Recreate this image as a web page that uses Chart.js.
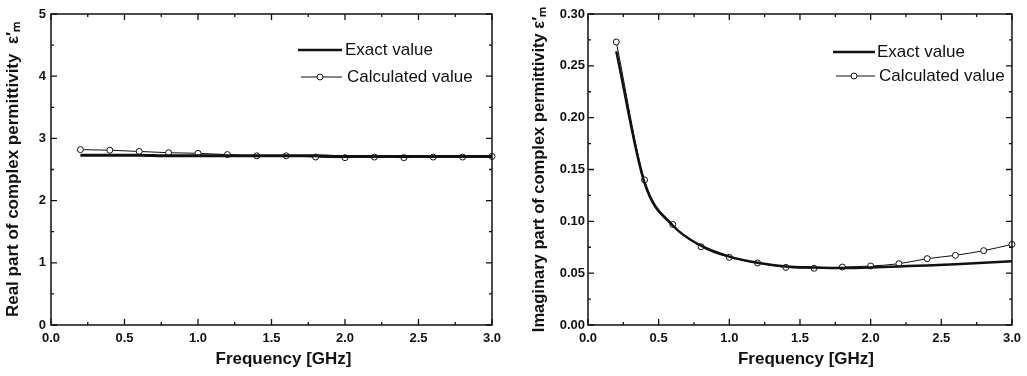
<!DOCTYPE html>
<html>
<head>
<meta charset="utf-8">
<script src="https://cdn.jsdelivr.net/npm/chart.js@4.4.1/dist/chart.umd.min.js"></script>
<style>
  body { margin: 0; background: #fff; width: 1027px; height: 376px; position: relative; overflow: hidden; }
  .box { position: absolute; top: 0; height: 376px; }
</style>
</head>
<body>
<div class="box" style="left:0;width:510px"><canvas id="realChart" width="510" height="376"></canvas></div>
<div class="box" style="left:510px;width:517px"><canvas id="imagChart" width="517" height="376"></canvas></div>
<script>
// frequency points, GHz
const freq = [0.2, 0.4, 0.6, 0.8, 1.0, 1.2, 1.4, 1.6, 1.8, 2.0, 2.2, 2.4, 2.6, 2.8, 3.0];

// real part
const realExact = [2.73, 2.73, 2.73, 2.72, 2.72, 2.72, 2.72, 2.72, 2.72, 2.71, 2.71, 2.71, 2.71, 2.71, 2.71];
const realCalc  = [2.82, 2.81, 2.79, 2.77, 2.76, 2.74, 2.72, 2.72, 2.70, 2.69, 2.70, 2.69, 2.70, 2.70, 2.71];

// imaginary part
const imagExact = [0.264, 0.137, 0.096, 0.0765, 0.066, 0.060, 0.0565, 0.0555, 0.055, 0.0555, 0.0565, 0.0575, 0.0587, 0.060, 0.0615];
const imagCalc  = [0.273, 0.140, 0.097, 0.0755, 0.0653, 0.0598, 0.0556, 0.0547, 0.0559, 0.0569, 0.0591, 0.064, 0.0672, 0.0717, 0.0778];

const xTicks = [0.0, 0.5, 1.0, 1.5, 2.0, 2.5, 3.0];
const realTicks = [0, 1, 2, 3, 4, 5];
const imagTicks = [0.00, 0.05, 0.10, 0.15, 0.20, 0.25, 0.30];

const legendLabels = ['Exact value', 'Calculated value'];
const xTitle = 'Frequency [GHz]';

const FONT = '"Liberation Sans", Arial, sans-serif';

const pts = (ys) => freq.map((f, i) => ({ x: f, y: ys[i] }));

// frame, inward ticks (major + minor on all four sides), x title and legend
const framePlugin = {
  id: 'frame',
  afterDraw(chart, args, opts) {
    const { ctx, chartArea: a, scales: { x, y } } = chart;
    ctx.save();
    ctx.strokeStyle = '#111';
    ctx.lineWidth = 1.5;
    ctx.strokeRect(a.left, a.top, a.right - a.left, a.bottom - a.top);

    ctx.lineWidth = 1.3;
    ctx.beginPath();
    const xMin = xTicks[0], xMax = xTicks[xTicks.length - 1];
    for (let k = 0; xMin + k * 0.25 <= xMax + 1e-9; k++) {
      const px = x.getPixelForValue(xMin + k * 0.25);
      const len = k % 2 === 0 ? 6 : 3;
      ctx.moveTo(px, a.bottom); ctx.lineTo(px, a.bottom - len);
      ctx.moveTo(px, a.top); ctx.lineTo(px, a.top + len);
    }
    const yt = opts.ticks;
    const step = (yt[1] - yt[0]) / 2;
    for (let k = 0; yt[0] + k * step <= yt[yt.length - 1] + 1e-9; k++) {
      const py = y.getPixelForValue(yt[0] + k * step);
      const len = k % 2 === 0 ? 6 : 3;
      ctx.moveTo(a.left, py); ctx.lineTo(a.left + len, py);
      ctx.moveTo(a.right, py); ctx.lineTo(a.right - len, py);
    }
    ctx.stroke();

    // x axis title, sits a bit right of the plot centre in the original
    ctx.fillStyle = '#111';
    ctx.font = 'bold 17px ' + FONT;
    ctx.textAlign = 'center';
    ctx.textBaseline = 'middle';
    ctx.fillText(xTitle, (a.left + a.right) / 2 + opts.titleShift, 359);

    // legend
    const L = opts.legend;
    ctx.textAlign = 'left';
    ctx.font = '17px ' + FONT;
    ctx.lineWidth = 2.5;
    ctx.beginPath(); ctx.moveTo(L.x0, L.y0); ctx.lineTo(L.x1, L.y0); ctx.stroke();
    ctx.fillText(legendLabels[0], L.tx, L.y0);
    ctx.lineWidth = 1;
    ctx.beginPath(); ctx.moveTo(L.x0 + 3, L.y1); ctx.lineTo(L.x1, L.y1); ctx.stroke();
    ctx.fillStyle = '#fff';
    ctx.beginPath(); ctx.arc(L.cx, L.y1, 3, 0, Math.PI * 2); ctx.fill(); ctx.stroke();
    ctx.fillStyle = '#111';
    ctx.fillText(legendLabels[1], L.tx + 2, L.y1);
    ctx.restore();
  }
};

function makeChart(id, exact, calc, yTicks, yTitle, cfg) {
  return new Chart(document.getElementById(id), {
    type: 'line',
    data: {
      datasets: [
        {
          label: legendLabels[0],
          data: pts(exact),
          borderColor: '#111',
          borderWidth: cfg.exactWidth,
          pointRadius: 0,
          cubicInterpolationMode: 'monotone',
          clip: false
        },
        {
          label: legendLabels[1],
          data: pts(calc),
          borderColor: '#111',
          borderWidth: 1,
          pointRadius: 3,
          pointBorderWidth: 1,
          pointBackgroundColor: '#fff',
          pointBorderColor: '#111',
          cubicInterpolationMode: 'monotone',
          clip: false
        }
      ]
    },
    options: {
      responsive: false,
      animation: false,
      events: [],
      layout: { padding: cfg.padding },
      plugins: {
        legend: { display: false },
        tooltip: { enabled: false },
        frame: { ticks: yTicks, legend: cfg.legend, titleShift: cfg.titleShift }
      },
      scales: {
        x: {
          type: 'linear',
          min: xTicks[0],
          max: xTicks[xTicks.length - 1],
          afterBuildTicks: (s) => { s.ticks = xTicks.map(v => ({ value: v })); },
          afterFit: (s) => { s.height = cfg.xHeight; },
          grid: { display: false, drawTicks: false },
          border: { display: false },
          ticks: {
            padding: 6,
            color: '#111',
            font: { family: FONT, size: 13, weight: 'bold' },
            callback: (v) => Number(v).toFixed(1)
          },
          title: { display: false }
        },
        y: {
          type: 'linear',
          min: yTicks[0],
          max: yTicks[yTicks.length - 1],
          afterBuildTicks: (s) => { s.ticks = yTicks.map(v => ({ value: v })); },
          afterFit: (s) => { s.width = cfg.yWidth; },
          grid: { display: false, drawTicks: false },
          border: { display: false },
          ticks: {
            padding: cfg.yPad,
            color: '#111',
            font: { family: FONT, size: 13, weight: 'bold' },
            callback: (v) => Number(v).toFixed(cfg.dec)
          },
          title: {
            display: true,
            text: yTitle,
            color: '#111',
            font: { family: FONT, size: cfg.yTitleSize, weight: 'bold' },
            padding: { top: 3, bottom: 3 }
          }
        }
      }
    },
    plugins: [framePlugin]
  });
}

makeChart('realChart', realExact, realCalc, realTicks,
  'Real part of complex permittivity  \u03b5\u2032\u2098', {
    padding: { left: 0, right: 18, top: 14, bottom: 11 },
    xHeight: 40, yWidth: 51, yPad: 5, dec: 0, exactWidth: 3, titleShift: 12, yTitleSize: 17,
    legend: { x0: 298, x1: 342, y0: 50, y1: 77, cx: 320, tx: 345 }
  });

makeChart('imagChart', imagExact, imagCalc, imagTicks,
  'Imaginary part of complex permittivity \u03b5\u2032\u2098', {
    padding: { left: 17, right: 14, top: 14, bottom: 11 },
    xHeight: 40, yWidth: 61, yPad: 3, dec: 2, exactWidth: 2.5, titleShift: 6, yTitleSize: 16.5,
    legend: { x0: 323, x1: 365, y0: 52, y1: 76, cx: 344, tx: 367 }
  });
</script>
</body>
</html>
